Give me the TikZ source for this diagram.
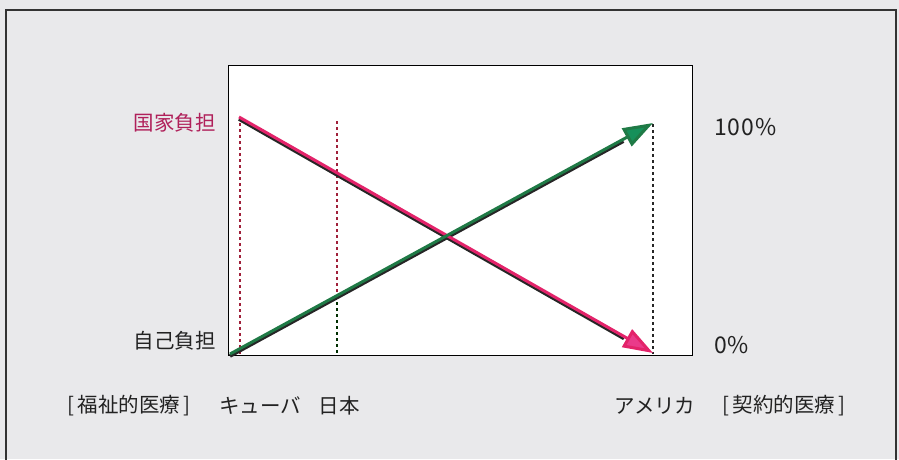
\documentclass[tikz,border=0pt]{standalone}
\usepackage{fontspec}
\setmainfont{Noto Sans CJK JP}
\usetikzlibrary{arrows.meta,calc}
\definecolor{bg}{HTML}{E9E9EB}
\definecolor{pinkline}{HTML}{E3236A}
\definecolor{pinkhead}{HTML}{EA3A8A}
\definecolor{greenline}{HTML}{1F7A46}
\definecolor{greenhead}{HTML}{16905A}
\definecolor{dashred}{HTML}{A0203A}
\definecolor{labmag}{HTML}{B0205A}
\definecolor{txt}{HTML}{222222}
\tikzset{
  lab/.style={font=\fontsize{20.5}{22}\selectfont, text=txt, inner sep=0pt},
  pct/.style={font=\fontsize{23}{24}\selectfont\addfontfeature{LetterSpace=4}, text=txt, inner sep=0pt},
  shadowline/.style={line width=3.6pt, black!85},
  pinkarrow/.style={line width=3pt, pinkline, -{Triangle[length=30pt,width=20pt,fill=pinkhead]}},
  greenarrow/.style={line width=3pt, greenline, -{Triangle[length=30pt,width=20pt,fill=greenhead]}},
  guide/.style={line width=1.3pt, dash pattern=on 3pt off 3pt},
}
\begin{document}
\begin{tikzpicture}[x=1pt,y=-1pt]
\useasboundingbox (0,0) rectangle (899,459);
\fill[bg] (0,0) rectangle (899,459);
% outer frame
\draw[line width=1.6pt, black!80] (6,470) -- (6,10) -- (896,10) -- (896,470);
% inner box
\node[draw=black, line width=1.4pt, fill=white, minimum width=464pt, minimum height=290pt, inner sep=0pt, anchor=north west] (box) at (228,65) {};
% coordinates
\coordinate (rs) at (239,117);
\coordinate (re) at (653,353);
\coordinate (gs) at (230,354);
\coordinate (ge) at (653,123);
\coordinate (d1t) at (240,117);
\coordinate (d1b) at (240,354);
\coordinate (d2t) at (337,121);
\coordinate (d2m) at (337,296);
\coordinate (d2b) at (337,354);
\coordinate (d3t) at (653,124);
\coordinate (d3b) at (653,354);
% guides
\draw[guide, dashred] (d1t) -- (d1b);
\draw[guide, dashred] (d2t) -- (d2m);
\draw[guide, black!70!green!60!black] (d2m) -- (d2b);
\draw[guide, black!85] (d3t) -- (d3b);
% shadows
\draw[shadowline] ([yshift=-2pt]rs) -- ([yshift=-2pt]$(rs)!0.93!(re)$);
\draw[shadowline] ([yshift=-2pt]gs) -- ([yshift=-2pt]$(gs)!0.93!(ge)$);
% main lines
\draw[pinkarrow] (rs) -- (re);
\draw[greenarrow] (gs) -- (ge);
% labels
\node[lab, text=labmag, anchor=east] (kokka) at (216,123) {国家負担};
\node[lab, anchor=east] (jiko) at (216,341) {自己負担};
\node[pct, anchor=west] (p100) at (714,127) {100\%};
\node[pct, anchor=west] (p0) at (714,345) {0\%};
\node[lab] (fukushi) at (129,406) {[\,福祉的医療\,]};
\node[lab] (cuba) at (260,406) {キューバ};
\node[lab] (japan) at (339,406) {日本};
\node[lab] (usa) at (655,406) {アメリカ};
\node[lab] (keiyaku) at (784,406) {[\,契約的医療\,]};
\end{tikzpicture}
\end{document}
